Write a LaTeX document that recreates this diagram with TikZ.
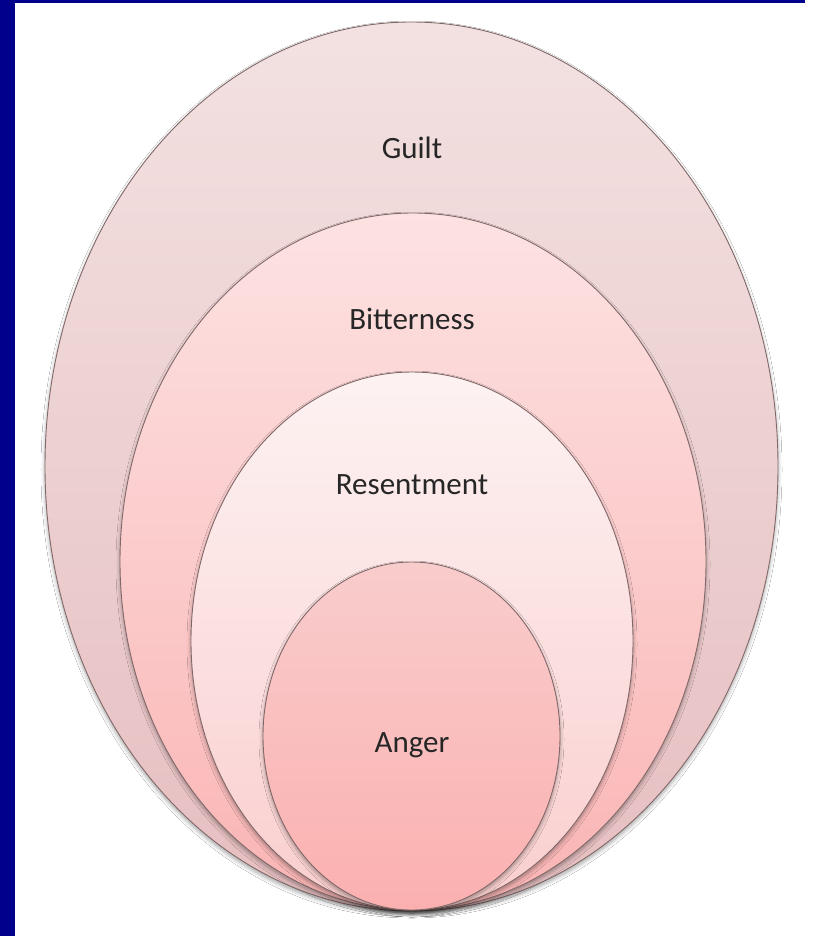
\documentclass[tikz,border=0pt]{standalone}
\usepackage{fontspec}
\setmainfont{Carlito}
\usetikzlibrary{shapes.geometric,shadows.blur}
\definecolor{navy}{RGB}{0,0,140}
\definecolor{rim}{RGB}{130,105,105}
\tikzset{
  ell/.style={ellipse, draw=rim, line width=0.9bp, inner sep=0pt,
    blur shadow={shadow xshift=0pt, shadow yshift=-3bp, shadow blur steps=6, shadow opacity=35, shadow blur radius=4bp}},
  lbl/.style={font=\fontsize{31bp}{36bp}\selectfont, text=black!85, anchor=base}
}
\begin{document}
\begin{tikzpicture}[x=1bp,y=-1bp]
\fill[white] (-10,-10) rectangle (830,950);
\fill[navy] (-10,-10) rectangle (15,950);
\fill[navy] (-10,-10) rectangle (805,3);
\fill[white] (805,-10) rectangle (830,950);
\node[ell, top color={rgb,255:red,243;green,225;blue,225}, bottom color={rgb,255:red,230;green,190;blue,192},
  minimum width=733bp, minimum height=889bp] (guilt) at (411.5,466.5) {};
\node[ell, top color={rgb,255:red,253;green,226;blue,226}, bottom color={rgb,255:red,250;green,180;blue,180},
  minimum width=586bp, minimum height=697bp] (bitter) at (413,561.5) {};
\node[ell, top color={rgb,255:red,253;green,242;blue,242}, bottom color={rgb,255:red,250;green,206;blue,206},
  minimum width=442bp, minimum height=538bp] (resent) at (412,641) {};
\node[ell, top color={rgb,255:red,249;green,204;blue,204}, bottom color={rgb,255:red,251;green,176;blue,176},
  minimum width=297bp, minimum height=348bp] (anger) at (411.5,736) {};
\node[lbl] (tguilt) at (412,158) {Guilt};
\node[lbl] (tbitter) at (412,329) {Bitterness};
\node[lbl] (tresent) at (412,494) {Resentment};
\node[lbl] (tanger) at (412,752) {Anger};
\pgfresetboundingbox
\useasboundingbox (0,0) rectangle (815,936);
\end{tikzpicture}
\end{document}
